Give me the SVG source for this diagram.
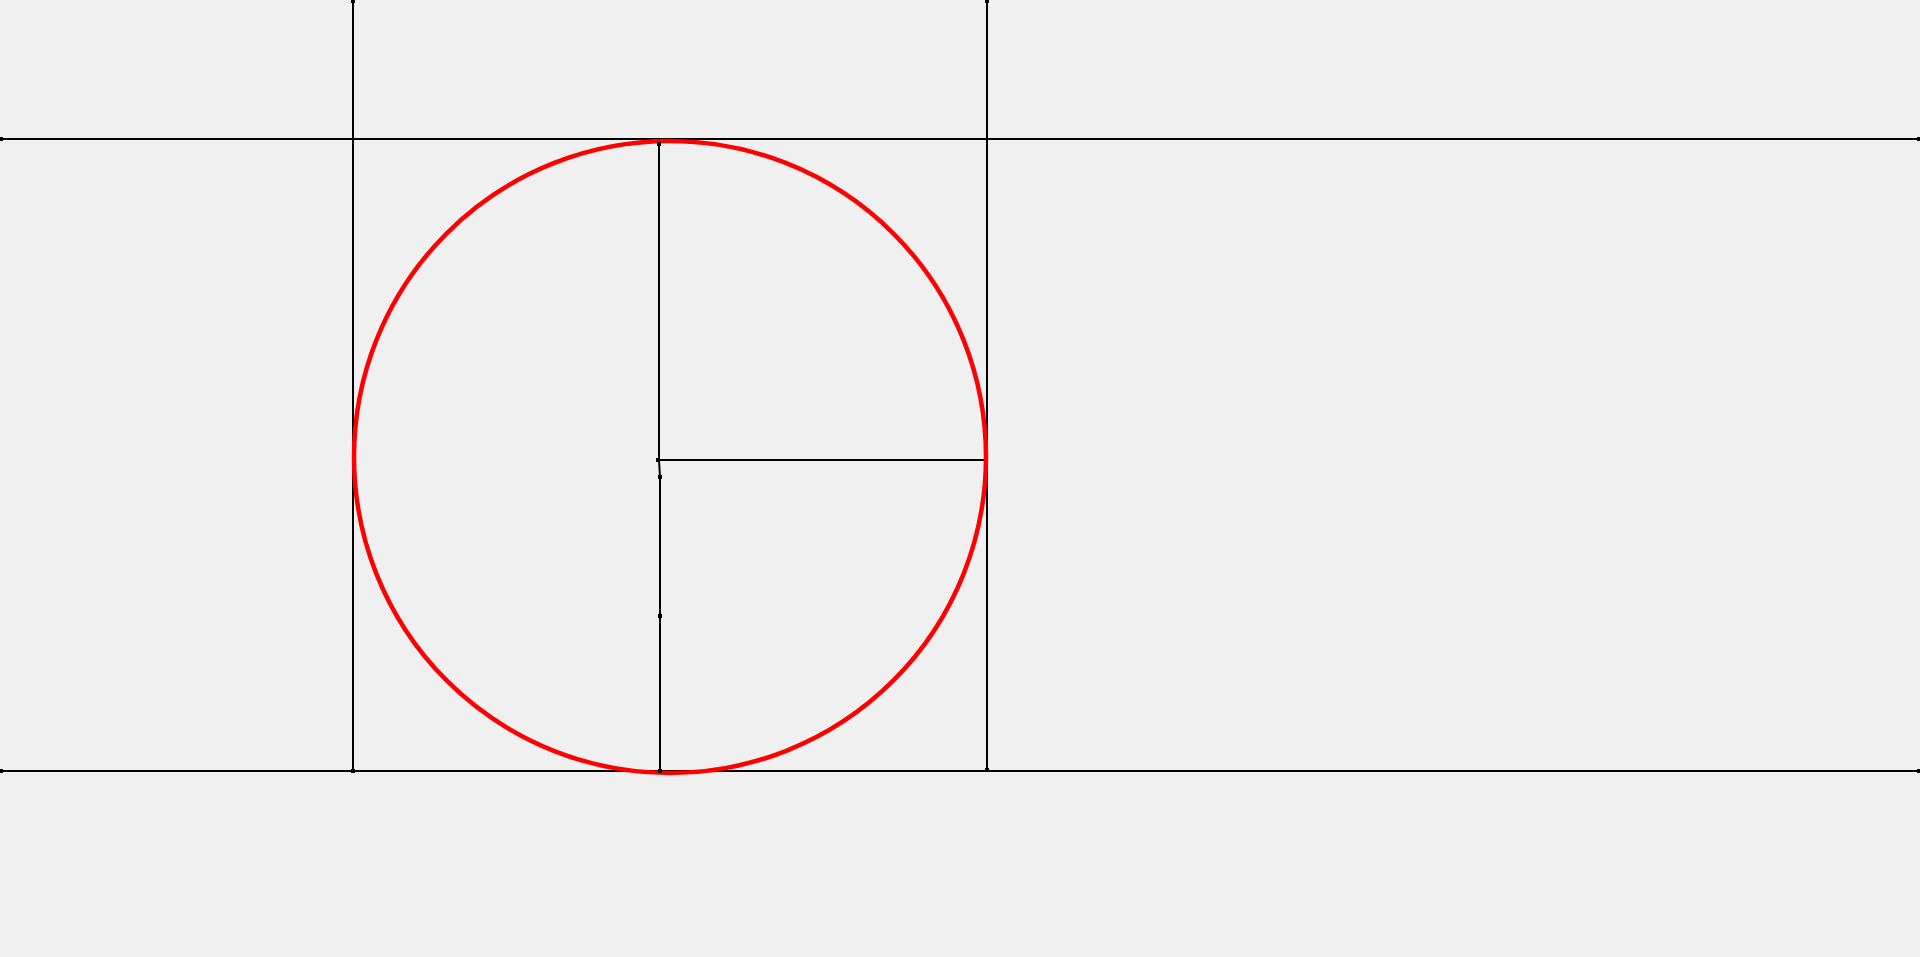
<svg xmlns="http://www.w3.org/2000/svg" width="1920" height="957" viewBox="0 0 1920 957">
<style>
.ln{stroke:#000;stroke-width:2;fill:none}
.pt{fill:#000}
.c{stroke:#ff0000;stroke-width:4.5;fill:none}
</style>
<rect width="1920" height="957" fill="#f0f0f0"/>
<g id="connectors">
<line class="ln" x1="353" y1="1" x2="353" y2="771"/>
<line class="ln" x1="987" y1="1" x2="987" y2="771"/>
<line class="ln" x1="1" y1="139" x2="1919" y2="139"/>
<line class="ln" x1="1" y1="771" x2="1919" y2="771"/>
<polyline class="ln" points="659,144 659,460 660,477 660,773"/>
<line class="ln" x1="658" y1="460" x2="985" y2="460"/>
</g>
<g id="circle">
<circle class="c" cx="670" cy="457" r="316"/>
</g>
<g id="points">
<rect class="pt" x="351" y="0" width="4" height="3"/>
<rect class="pt" x="985" y="0" width="4" height="3"/>
<rect class="pt" x="0" y="137" width="3" height="4"/>
<rect class="pt" x="1917" y="137" width="3" height="4"/>
<rect class="pt" x="0" y="769" width="3" height="4"/>
<rect class="pt" x="1917" y="769" width="3" height="4"/>
<rect class="pt" x="351" y="769" width="4" height="4"/>
<rect class="pt" x="985" y="768" width="4" height="4"/>
<rect class="pt" x="657" y="142" width="4" height="4"/>
<rect class="pt" x="656" y="458" width="4" height="4"/>
<rect class="pt" x="658" y="475" width="4" height="4"/>
<rect class="pt" x="658" y="614" width="4" height="4"/>
<rect class="pt" x="658" y="769" width="4" height="4"/>
</g>
</svg>
